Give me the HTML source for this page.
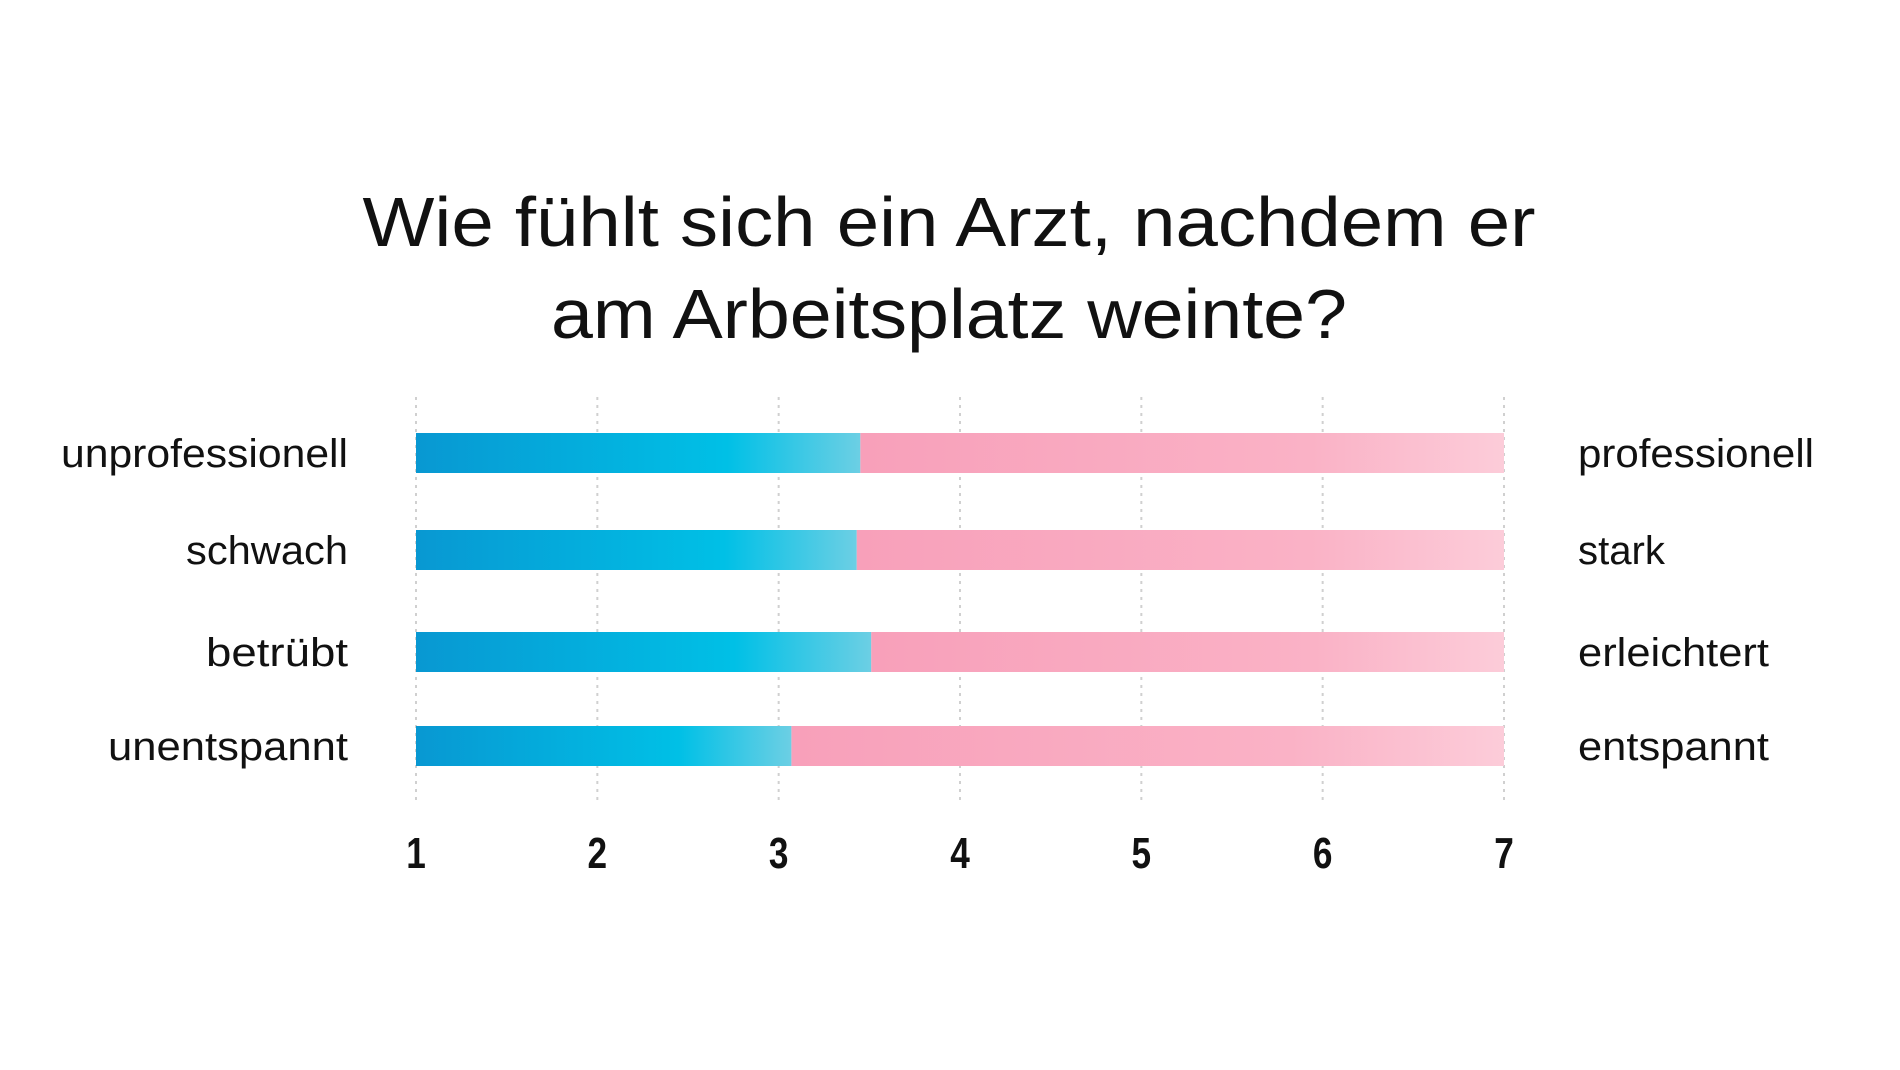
<!DOCTYPE html>
<html><head><meta charset="utf-8"><style>
html,body{margin:0;padding:0;background:#fff;}
svg{display:block;font-family:"Liberation Sans",sans-serif;}
</style></head><body>
<svg id="chart" width="1900" height="1070" viewBox="0 0 1900 1070">
<defs>
<linearGradient id="blueGrad" x1="0" x2="1" y1="0" y2="0">
<stop offset="0" stop-color="#0898d2"/><stop offset="0.7" stop-color="#00c0e6"/><stop offset="1" stop-color="#6ccfe4"/>
</linearGradient>
<linearGradient id="pinkGrad" x1="0" x2="1" y1="0" y2="0">
<stop offset="0" stop-color="#f8a0ba"/><stop offset="0.7" stop-color="#fab2c6"/><stop offset="1" stop-color="#fcccd9"/>
</linearGradient>
</defs>
<text x="949" y="246" text-anchor="middle" font-size="70" fill="#111" textLength="1173" lengthAdjust="spacingAndGlyphs">Wie fühlt sich ein Arzt, nachdem er</text>
<text x="949" y="338" text-anchor="middle" font-size="70" fill="#111" textLength="796" lengthAdjust="spacingAndGlyphs">am Arbeitsplatz weinte?</text>
<g id="grid"></g>
<g id="bars"></g>
<g id="labels"></g>
<g id="ticks"></g>
</svg>
<script>
const leftLabels = ["unprofessionell","schwach","betrübt","unentspannt"];
const rightLabels = ["professionell","stark","erleichtert","entspannt"];
const values = [3.45, 3.43, 3.51, 3.07];
const tickValues = [1,2,3,4,5,6,7];
const leftWidths = [287, 162, 142, 240];
const rightWidths = [236, 87, 191, 191];

const NS = "http://www.w3.org/2000/svg";
const xMin = 1, xMax = 7, x0 = 416, x1 = 1504;
function xScale(v){ return x0 + (v - xMin) / (xMax - xMin) * (x1 - x0); }
const rowY = [433, 530, 632, 726];
const barH = 40;
function mk(tag, attrs, parent){ const e = document.createElementNS(NS, tag); for (const k in attrs) e.setAttribute(k, attrs[k]); parent.appendChild(e); return e; }

const grid = document.getElementById('grid');
const bars = document.getElementById('bars');
const labels = document.getElementById('labels');
const ticks = document.getElementById('ticks');

tickValues.forEach((t) => {
  const x = xScale(t);
  const l = mk('line', {x1:x, x2:x, y1:397, y2:800, stroke:'#d0d0d0', 'stroke-width':2, 'stroke-dasharray':'3,5'}, grid);
  
  
  const tx = mk('text', {x:x, y:868, 'text-anchor':'middle', 'font-size':44, 'font-weight':'bold', fill:'#111', transform:'translate(' + x + ',0) scale(0.8,1) translate(' + (-x) + ',0)'}, ticks);
  
  
  tx.textContent = t;
});

values.forEach((v, i) => {
  const y = rowY[i];
  const xs = xScale(xMin), xv = xScale(v), xe = xScale(xMax);
  const pb = mk('rect', {x:xv, y:y, width:xe - xv, height:barH, fill:'url(#pinkGrad)'}, bars);
  
  
  const bb = mk('rect', {x:xs, y:y, width:xv - xs, height:barH, fill:'url(#blueGrad)'}, bars);
  
  
  const lt = mk('text', {x:348, y:y + 34, 'text-anchor':'end', 'font-size':40, fill:'#111', textLength:leftWidths[i], lengthAdjust:'spacingAndGlyphs'}, labels);
  
  
  lt.textContent = leftLabels[i];
  const rt = mk('text', {x:1578, y:y + 34, 'text-anchor':'start', 'font-size':40, fill:'#111', textLength:rightWidths[i], lengthAdjust:'spacingAndGlyphs'}, labels);
  
  
  rt.textContent = rightLabels[i];
});
</script>
</body></html>
